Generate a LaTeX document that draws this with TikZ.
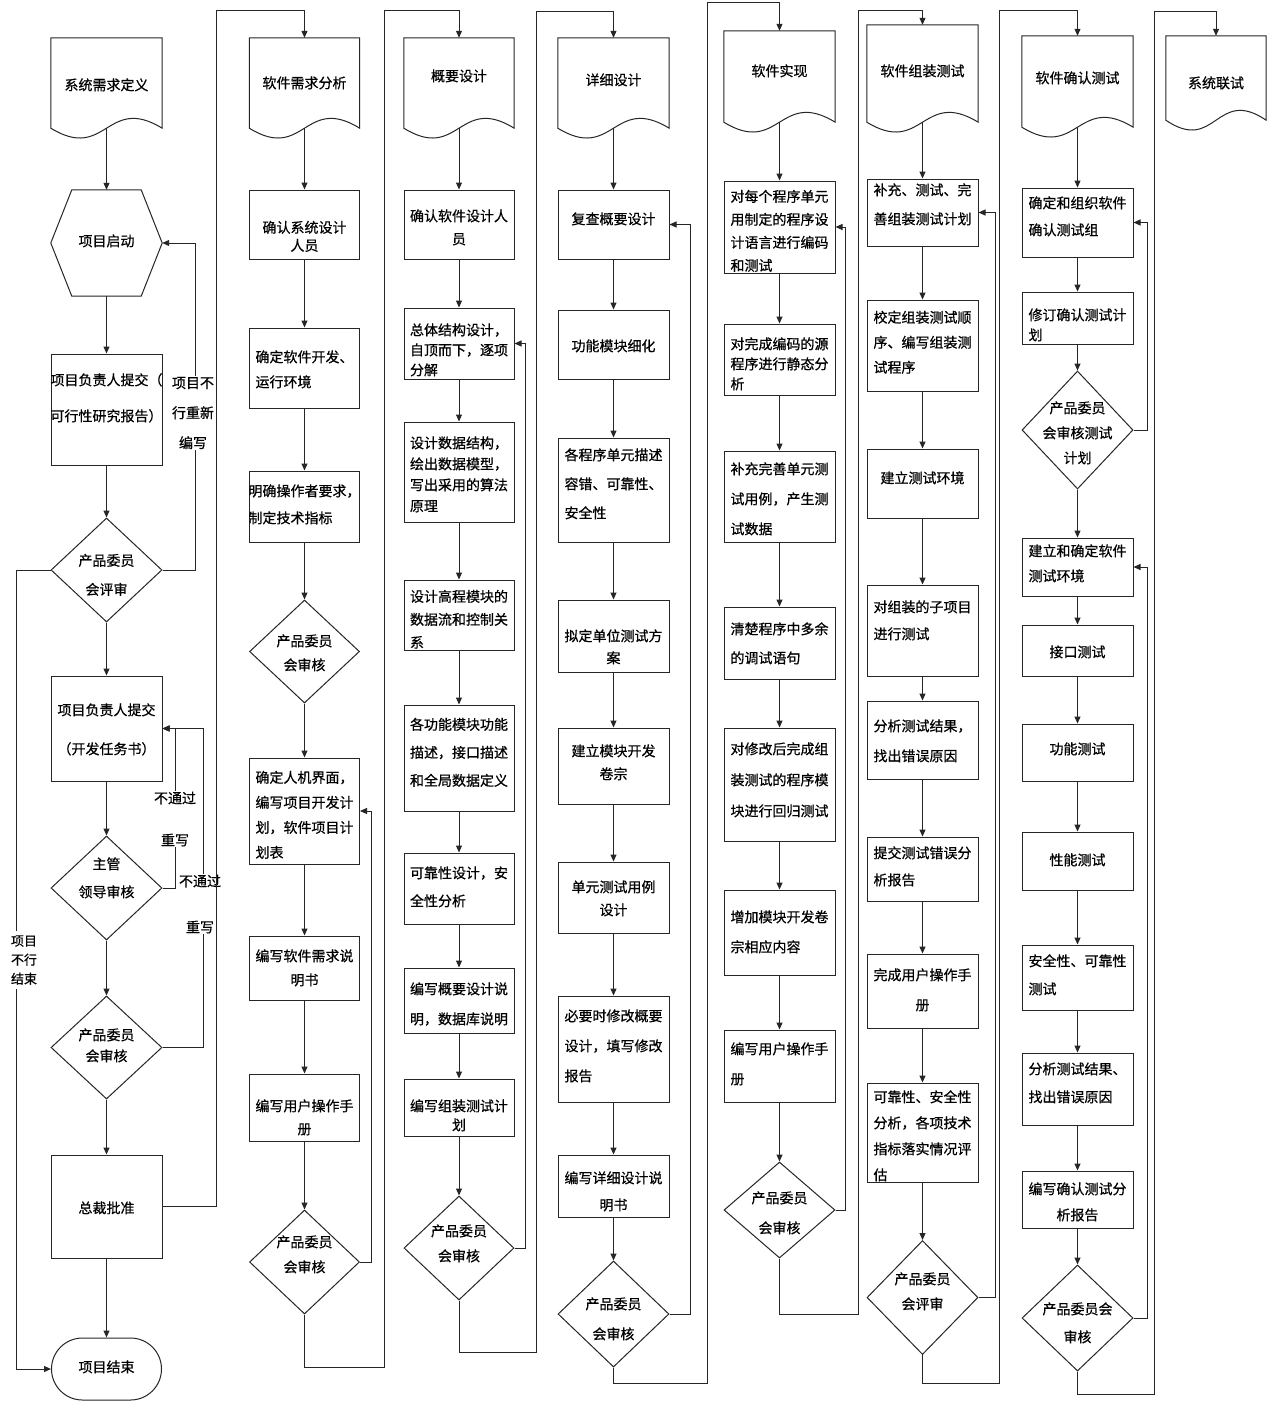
\documentclass[tikz,border=0pt]{standalone}
\usepackage{fontspec}
\newfontfamily\cjk[FakeBold=0.6]{Noto Sans CJK SC}
\usetikzlibrary{shapes.geometric,shapes.misc,arrows.meta,calc}
\newcommand\nt[4][-5.4pt]{\makebox[0pt]{\smash{\raisebox{#1}{\fontsize{14}{#3}\selectfont\begin{tabular}[c]{@{}#2@{}}#4\end{tabular}}}}}
\newcommand\docpath[1]{\draw[ln] (#1.north west) -- (#1.north east) -- (#1.south east) .. controls ($(#1.south)+(0,-34)$) and ($(#1.south)+(0,34)$) .. (#1.south west) -- cycle;}
\begin{document}
\begin{tikzpicture}[x=1pt,y=-1pt,
 ln/.style={draw=black!85, line width=1pt},
 box/.style={rectangle, ln, minimum width=111pt, inner sep=0pt, font=\cjk},
 dia/.style={diamond, ln, minimum width=111pt, inner sep=0pt, font=\cjk},
 doc/.style={rectangle, draw=none, minimum width=111pt, inner sep=0pt, font=\cjk},
 arr/.style={ln, -{Triangle[length=7pt,width=6pt]}},
 lbl/.style={fill=white, inner sep=1pt, align=center}]
\fill[white] (0,0) rectangle (1273,1403);
\useasboundingbox (0,0) rectangle (1273,1403);

% ---------- column 1
\node[doc, minimum height=90pt] (d1) at (106.5,83) {\nt[-7.4pt]{c}{17}{系统需求定义}};
\node[doc, minimum height=106pt] (hex) at (106.5,243) {\nt[-3.4pt]{c}{17}{项目启动}};
\node[box, minimum height=111pt] (b1) at (106.5,409.5) {\nt[9.9pt]{l}{36}{项目负责人提交（\\可行性研究报告）}};
\node[dia, minimum height=104pt] (k1) at (106.5,570) {\nt[-8pt]{c}{29}{产品委员\\会评审}};
\node[box, minimum height=105pt] (b2) at (106.5,728.5) {\nt[-2pt]{l}{39}{项目负责人提交\\（开发任务书）}};
\node[dia, minimum height=104pt] (k2) at (106.5,888) {\nt[6.8pt]{c}{28}{主管\\领导审核}};
\node[dia, minimum height=103pt] (k3) at (106.5,1047.5) {\nt[-2.6pt]{c}{21}{产品委员\\会审核}};
\node[box, minimum height=103pt] (zc) at (106.5,1206.5) {\nt[-6.9pt]{c}{17}{总裁批准}};
\node[rounded rectangle, ln, minimum width=110pt, minimum height=62pt, inner sep=0pt, font=\cjk] (end) at (106.5,1369) {\nt[-3.4pt]{c}{17}{项目结束}};

% ---------- column 2
\node[doc, minimum width=110pt, minimum height=90pt] (d2) at (304.5,83) {\nt{c}{17}{软件需求分析}};
\node[box, minimum width=110pt, minimum height=69pt] (c2a) at (304.5,224.5) {\nt[-17.2pt]{c}{18}{确认系统设计\\人员}};
\node[box, minimum width=110pt, minimum height=80pt] (c2b) at (304.5,368) {\nt[-5.3pt]{l}{25}{确定软件开发、\\运行环境}};
\node[box, minimum width=110pt, minimum height=71pt] (c2c) at (304.5,506.5) {\nt[-1.4pt]{l}{27}{明确操作者要求，\\制定技术指标}};
\node[dia, minimum width=110pt, minimum height=103pt] (c2k1) at (304.5,651.5) {\nt[-5.5pt]{c}{24}{产品委员\\会审核}};
\node[box, minimum width=110pt, minimum height=106pt] (c2d) at (304.5,811) {\nt[-7.8pt]{l}{25}{确定人机界面，\\编写项目开发计\\划，软件项目计\\划表}};
\node[box, minimum width=110pt, minimum height=64pt] (c2e) at (304.5,968) {\nt[-4pt]{c}{24}{编写软件需求说\\明书}};
\node[box, minimum width=110pt, minimum height=67pt] (c2f) at (304.5,1107.5) {\nt[-14.2pt]{c}{23}{编写用户操作手\\册}};
\node[dia, minimum width=110pt, minimum height=104pt] (c2k2) at (304.5,1262) {\nt[3.7pt]{c}{25}{产品委员\\会审核}};

% ---------- column 3
\node[doc, minimum width=110pt, minimum height=90pt] (d3) at (459,83) {\nt[1.6pt]{c}{17}{概要设计}};
\node[box, minimum width=110pt, minimum height=69pt] (c3a) at (459,224.5) {\nt[-7.2pt]{c}{23}{确认软件设计人\\员}};
\node[box, minimum width=110pt, minimum height=71pt] (c3b) at (459,343.5) {\nt[-11.3pt]{l}{20}{总体结构设计，\\自顶而下，逐项\\分解}};
\node[box, minimum width=110pt, minimum height=100pt] (c3c) at (459,472) {\nt[-7.1pt]{l}{21}{设计数据结构，\\绘出数据模型，\\写出采用的算法\\原理}};
\node[box, minimum width=110pt, minimum height=70pt] (c3d) at (459,615) {\nt[-8.7pt]{l}{23}{设计高程模块的\\数据流和控制关\\系}};
\node[box, minimum width=110pt, minimum height=106pt] (c3e) at (459,758) {\nt[2.3pt]{l}{28}{各功能模块功能\\描述，接口描述\\和全局数据定义}};
\node[box, minimum width=110pt, minimum height=71pt] (c3f) at (459,888.5) {\nt[-1.7pt]{l}{28}{可靠性设计，安\\全性分析}};
\node[box, minimum width=110pt, minimum height=65pt] (c3g) at (459,1000.5) {\nt[-6.3pt]{l}{30}{编写概要设计说\\明，数据库说明}};
\node[box, minimum width=110pt, minimum height=57pt] (c3h) at (459,1107.5) {\nt[-13pt]{c}{19}{编写组装测试计\\划}};
\node[dia, minimum width=110pt, minimum height=104pt] (c3k) at (459,1248) {\nt[0.7pt]{c}{25}{产品委员\\会审核}};

% ---------- column 4
\node[doc, minimum height=90pt] (d4) at (613.5,83) {\nt[-2.4pt]{c}{17}{详细设计}};
\node[box, minimum height=69pt] (c4a) at (613.5,224.5) {\nt[0.1pt]{c}{17}{复查概要设计}};
\node[box, minimum height=69pt] (c4b) at (613.5,344.5) {\nt[-6.9pt]{c}{17}{功能模块细化}};
\node[box, minimum height=104pt] (c4c) at (613.5,490) {\nt[3pt]{l}{29}{各程序单元描述\\容错、可靠性、\\安全性}};
\node[box, minimum height=72pt] (c4d) at (613.5,636) {\nt[-15.4pt]{c}{22}{拟定单位测试方\\案}};
\node[box, minimum height=76pt] (c4e) at (613.5,766) {\nt[-0.7pt]{c}{23}{建立模块开发\\卷宗}};
\node[box, minimum height=71pt] (c4f) at (613.5,897.5) {\nt[-5.2pt]{c}{23}{单元测试用例\\设计}};
\node[box, minimum height=106pt] (c4g) at (613.5,1049) {\nt[0.2pt]{l}{30}{必要时修改概要\\设计，填写修改\\报告}};
\node[box, minimum height=62pt] (c4h) at (613.5,1186) {\nt[-8.9pt]{c}{27}{编写详细设计说\\明书}};
\node[dia, minimum height=106pt] (c4k) at (613.5,1314) {\nt[-7.8pt]{c}{30}{产品委员\\会审核}};

% ---------- column 5
\node[doc, minimum height=91pt] (d5) at (779.5,76.5) {\nt[0.1pt]{c}{17}{软件实现}};
\node[box, minimum height=92pt] (c5a) at (779.5,227) {\nt[-8.2pt]{l}{23}{对每个程序单元\\用制定的程序设\\计语言进行编码\\和测试}};
\node[box, minimum height=71pt] (c5b) at (779.5,359.5) {\nt[-9.3pt]{l}{20}{对完成编码的源\\程序进行静态分\\析}};
\node[box, minimum height=91pt] (c5c) at (779.5,496.5) {\nt[-5.3pt]{l}{30}{补充完善单元测\\试用例，产生测\\试数据}};
\node[box, minimum height=72pt] (c5d) at (779.5,643) {\nt[-3.5pt]{l}{29}{清楚程序中多余\\的调试语句}};
\node[box, minimum height=113pt] (c5e) at (779.5,784.5) {\nt[1.9pt]{l}{31}{对修改后完成组\\装测试的程序模\\块进行回归测试}};
\node[box, minimum height=85pt] (c5f) at (779.5,932.5) {\nt[-2.3pt]{l}{30}{增加模块开发卷\\宗相应内容}};
\node[box, minimum height=72pt] (c5g) at (779.5,1066) {\nt[-0.8pt]{l}{30}{编写用户操作手\\册}};
\node[dia, minimum height=96pt] (c5k) at (779.5,1210) {\nt[-5.8pt]{c}{30}{产品委员\\会审核}};

% ---------- column 6
\node[doc, minimum height=97pt] (d6) at (922.5,73.5) {\nt[-2.9pt]{c}{17}{软件组装测试}};
\node[box, minimum height=67pt] (c6a) at (922.5,212.5) {\nt[5pt]{l}{29}{补充、测试、完\\善组装测试计划}};
\node[box, minimum height=91pt] (c6b) at (922.5,345.5) {\nt[-0.7pt]{l}{25}{校定组装测试顺\\序、编写组装测\\试程序}};
\node[box, minimum height=69pt] (c6c) at (922.5,483.5) {\nt[0.1pt]{c}{17}{建立测试环境}};
\node[box, minimum height=91pt] (c6d) at (922.5,630.5) {\nt[6.6pt]{l}{27}{对组装的子项目\\进行测试}};
\node[box, minimum height=78pt] (c6e) at (922.5,740) {\nt[-3.8pt]{l}{30}{分析测试结果，\\找出错误原因}};
\node[box, minimum height=64pt] (c6f) at (922.5,869) {\nt[-0.9pt]{l}{27}{提交测试错误分\\析报告}};
\node[box, minimum height=74pt] (c6g) at (922.5,991) {\nt[-1.8pt]{c}{30}{完成用户操作手\\册}};
\node[box, minimum height=99pt] (c6h) at (922.5,1132.5) {\nt[-7.1pt]{l}{26}{可靠性、安全性\\分析，各项技术\\指标落实情况评\\估}};
\node[dia, minimum height=114pt] (c6k) at (922.5,1297.5) {\nt[2.2pt]{c}{25}{产品委员\\会评审}};

% ---------- column 7
\node[doc, minimum height=91pt] (d7) at (1077.5,81.5) {\nt[-1.9pt]{c}{17}{软件确认测试}};
\node[box, minimum height=69pt] (c7a) at (1077.5,222.5) {\nt[2.6pt]{l}{27}{确定和组织软件\\确认测试组}};
\node[box, minimum height=52pt] (c7b) at (1077.5,318) {\nt[-11.8pt]{l}{20}{修订确认测试计\\划}};
\node[dia, minimum height=118pt] (c7k1) at (1077.5,430) {\nt[-6.8pt]{c}{25}{产品委员\\会审核测试\\计划}};
\node[box, minimum height=58pt] (c7c) at (1077.5,567) {\nt[-0.3pt]{l}{25}{建立和确定软件\\测试环境}};
\node[box, minimum height=51pt] (c7d) at (1077.5,650.5) {\nt[-6.9pt]{c}{17}{接口测试}};
\node[box, minimum height=57pt] (c7e) at (1077.5,752.5) {\nt[-1.9pt]{c}{17}{功能测试}};
\node[box, minimum height=58pt] (c7f) at (1077.5,861) {\nt[-4.4pt]{c}{17}{性能测试}};
\node[box, minimum height=65pt] (c7g) at (1077.5,977.5) {\nt[-0.7pt]{l}{28}{安全性、可靠性\\测试}};
\node[box, minimum height=72pt] (c7h) at (1077.5,1089) {\nt[2.8pt]{l}{28}{分析测试结果、\\找出错误原因}};
\node[box, minimum height=57pt] (c7i) at (1077.5,1199.5) {\nt[-6.1pt]{c}{26}{编写确认测试分\\析报告}};
\node[dia, minimum height=106pt] (c7k2) at (1077.5,1318) {\nt[-8.2pt]{c}{28}{产品委员会\\审核}};

% ---------- column 8
\node[doc, minimum width=100pt, minimum height=84pt] (d8) at (1216,78) {\nt[-10.4pt]{c}{17}{系统联试}};

% ---------- document and hexagon outlines
\foreach \d in {d1,d2,d3,d4,d5,d6,d7,d8} {\docpath{\d}}
\draw[ln] (hex.west) -- ($(hex.north west)+(21,0)$) -- ($(hex.north east)+(-21,0)$) -- (hex.east) -- ($(hex.south east)+(-21,0)$) -- ($(hex.south west)+(21,0)$) -- cycle;

% ---------- straight flow arrows
\foreach \a/\b in {d1/hex,hex/b1,b1/k1,k1/b2,b2/k2,k2/k3,k3/zc,zc/end,
 d2/c2a,c2a/c2b,c2b/c2c,c2c/c2k1,c2k1/c2d,c2d/c2e,c2e/c2f,c2f/c2k2,
 d3/c3a,c3a/c3b,c3b/c3c,c3c/c3d,c3d/c3e,c3e/c3f,c3f/c3g,c3g/c3h,c3h/c3k,
 d4/c4a,c4a/c4b,c4b/c4c,c4c/c4d,c4d/c4e,c4e/c4f,c4f/c4g,c4g/c4h,c4h/c4k,
 d5/c5a,c5a/c5b,c5b/c5c,c5c/c5d,c5d/c5e,c5e/c5f,c5f/c5g,c5g/c5k,
 d6/c6a,c6a/c6b,c6b/c6c,c6c/c6d,c6d/c6e,c6e/c6f,c6f/c6g,c6g/c6h,c6h/c6k,
 d7/c7a,c7a/c7b,c7b/c7k1,c7k1/c7c,c7c/c7d,c7d/c7e,c7e/c7f,c7f/c7g,c7g/c7h,c7h/c7i,c7i/c7k2}
 {\draw[arr] (\a) -- (\b);}

% ---------- feedback loops
\draw[arr] (k1.east) -- ++(33,0) |- (hex.east);
\draw[arr] (k1.west) -- ++(-34,0) |- (end.west);
\draw[arr] (k2.east) -- ++(13,0) |- (b2.east);
\draw[arr] (k3.east) -- ++(41,0) |- (b2.east);
\draw[arr] (c2k2.east) -- ++(11,0) |- (c2d.east);
\draw[arr] (c3k.east) -- ++(11,0) |- (c3b.east);
\draw[arr] (c4k.east) -- ++(21,0) |- (c4a.east);
\draw[arr] (c5k.east) -- ++(10,0) |- (c5a.east);
\draw[arr] (c6k.east) -- ++(17,0) |- (c6a.east);
\draw[arr] (c7k1.east) -- ++(14,0) |- (c7a.east);
\draw[arr] (c7k2.east) -- ++(14,0) |- (c7c.east);

% ---------- labels on loops
\node[lbl, font=\cjk\fontsize{14}{30}\selectfont] (l1) at (193,413) {项目不\\行重新\\编写};
\node[lbl, font=\cjk\fontsize{14}{42}\selectfont] (l2) at (175,819) {不通过\\重写};
\node[lbl, font=\cjk\fontsize{14}{46}\selectfont] (l3) at (200,904) {不通过\\重写};
\node[lbl, inner sep=4pt, font=\cjk\fontsize{13}{19}\selectfont] (l4) at (24,960) {项目\\不行\\结束};

% ---------- connectors between stages
\coordinate (o1) at (216,10);
\draw[arr] (zc.east) -| (o1) -| (d2.north);
\coordinate (o2a) at (384,1367); \coordinate (o2b) at (384,10);
\draw[arr] (c2k2.south) |- (o2a) -- (o2b) -| (d3.north);
\coordinate (o3a) at (536,1352); \coordinate (o3b) at (536,11);
\draw[arr] (c3k.south) |- (o3a) -- (o3b) -| (d4.north);
\coordinate (o4a) at (707,1383); \coordinate (o4b) at (707,2);
\draw[arr] (c4k.south) |- (o4a) -- (o4b) -| (d5.north);
\coordinate (o5a) at (858,1314); \coordinate (o5b) at (858,10);
\draw[arr] (c5k.south) |- (o5a) -- (o5b) -| (d6.north);
\coordinate (o6a) at (999,1383); \coordinate (o6b) at (999,10);
\draw[arr] (c6k.south) |- (o6a) -- (o6b) -| (d7.north);
\coordinate (o7a) at (1154,1394); \coordinate (o7b) at (1154,11);
\draw[arr] (c7k2.south) |- (o7a) -- (o7b) -| (d8.north);
\end{tikzpicture}
\end{document}
